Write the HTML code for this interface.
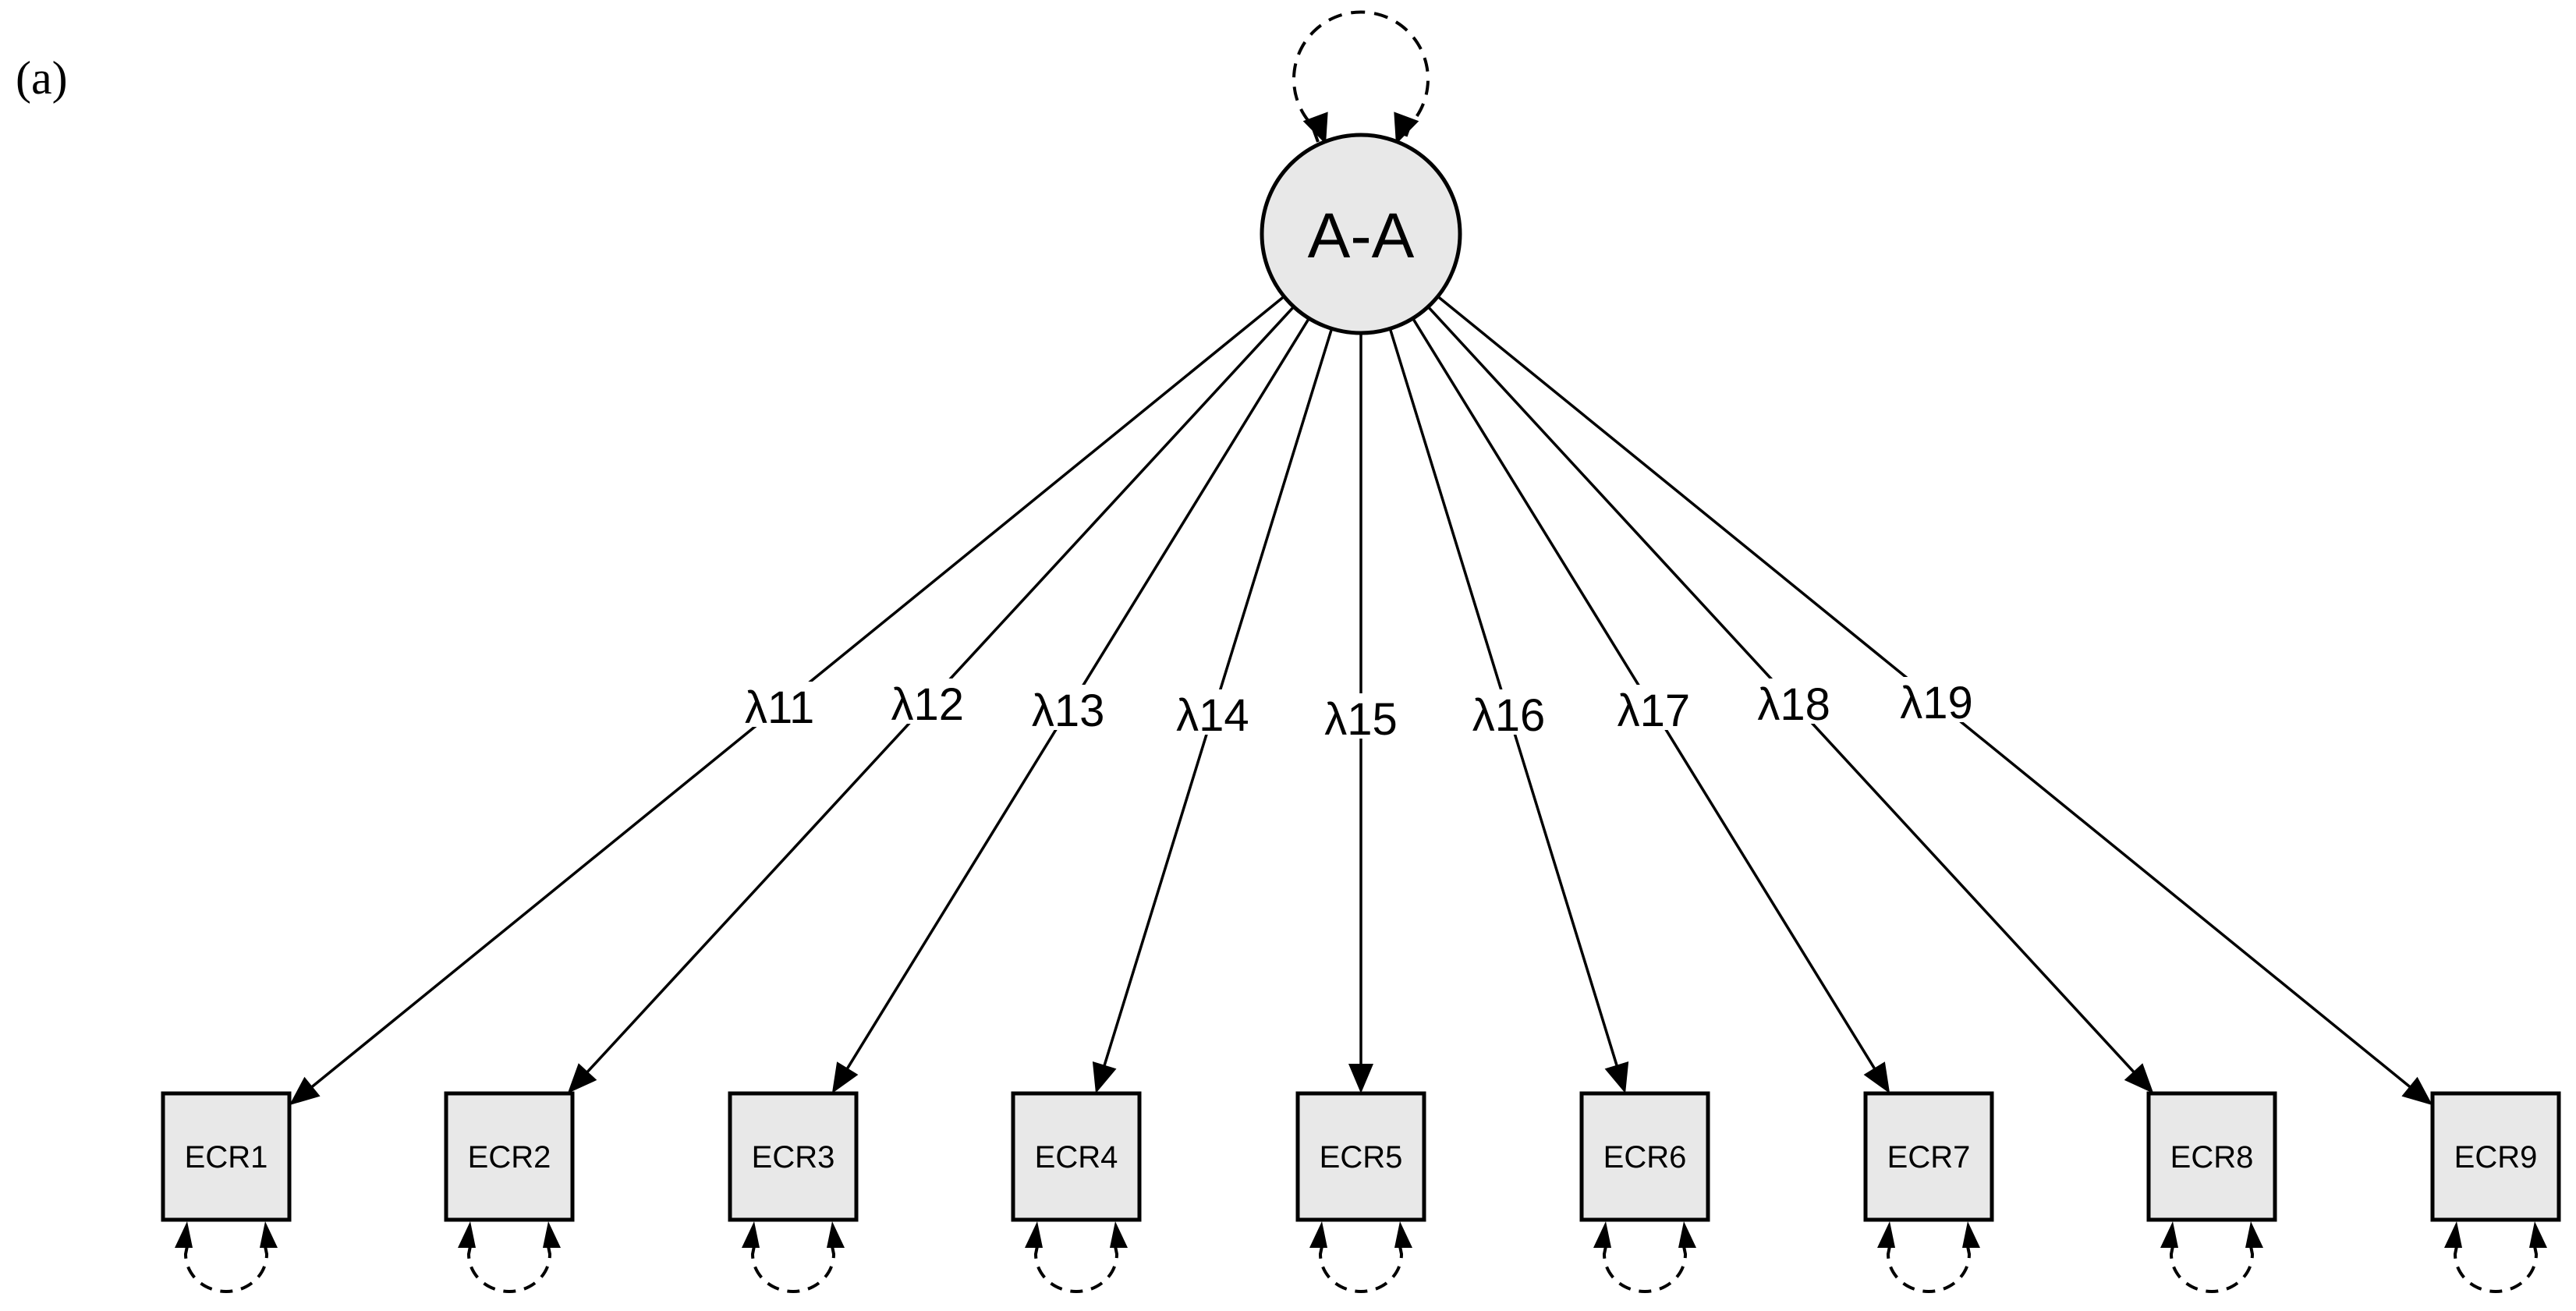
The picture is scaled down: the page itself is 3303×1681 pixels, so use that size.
<!DOCTYPE html>
<html><head><meta charset="utf-8"><style>
html,body{margin:0;padding:0;background:#fff;}
svg{display:block;}
</style></head><body>
<svg id="s" width="3303" height="1681" viewBox="0 0 3303 1681" xmlns="http://www.w3.org/2000/svg">
<text x="20" y="120" font-family="Liberation Serif, serif" font-size="60">(a)</text>
<g id="g"></g>
</svg>
<script>
(function(){
var NS="http://www.w3.org/2000/svg",g=document.getElementById('g');
function el(t,a,txt){var e=document.createElementNS(NS,t);for(var k in a)e.setAttribute(k,a[k]);if(txt)e.textContent=txt;g.appendChild(e);return e;}
var CX=1745,CY=300,R=127;
function arrow(tx,ty,ux,uy,L,W){var bx=tx-ux*L,by=ty-uy*L,px=-uy*W/2,py=ux*W/2;
 el('polygon',{points:tx+','+ty+' '+(bx+px)+','+(by+py)+' '+(bx-px)+','+(by-py),fill:'#000'});}
var xs=[290,653,1017,1380,1745,2109,2473,2836,3200];
var ly=[906,902,910,916,921,916,910,902,900];
var H=81,BY=1483;
// top self loop
el('path',{d:'M1690,182 L1682,160 A86,86 0 1 1 1808,160 L1800,182',fill:'none',stroke:'#000','stroke-width':4,'stroke-dasharray':'18,12'});
arrow(1700,185,0.35,0.94,38,34);arrow(1790,185,-0.35,0.94,38,34);
xs.forEach(function(x,i){
 var dx=x-CX,dy=BY-CY,len=Math.sqrt(dx*dx+dy*dy),ux=dx/len,uy=dy/len;
 var sx=CX+ux*R,sy=CY+uy*R;
 var t1=(BY-H-CY)/dy,t2=Math.abs(dx)>0?(Math.abs(dx)-H)/Math.abs(dx):1e9;
 var t=Math.max(t1,Math.min(t2,1e9));
 if(t2<1e9&&t2>t1)t=t2;else t=t1;
 var ex=CX+dx*t,ey=CY+dy*t;
 el('line',{x1:sx,y1:sy,x2:ex-ux*30,y2:ey-uy*30,stroke:'#000','stroke-width':3.5});
 arrow(ex,ey,ux,uy,38,32);
 // label
 var lx=CX+dx*((ly[i]-CY)/dy);
 var tw=(i==4)?78:86;
 el('rect',{x:lx-tw/2-4,y:ly[i]-32,width:tw+8,height:58,fill:'#fff'});
 el('text',{x:lx,y:ly[i]+21,'text-anchor':'middle','font-family':'Liberation Sans, DejaVu Sans, sans-serif','font-size':58},'λ1'+(i+1));
 // box
 el('rect',{x:x-H,y:BY-H,width:2*H,height:2*H,fill:'#e8e8e8',stroke:'#000','stroke-width':5});
 el('text',{x:x,y:BY+14,'text-anchor':'middle','font-family':'Liberation Sans, sans-serif','font-size':40},'ECR'+(i+1));
 // bottom loop
 el('path',{d:'M'+(x-50)+',1598 L'+(x-52)+',1608 A52,48 0 0 0 '+(x+52)+',1608 L'+(x+50)+',1598',fill:'none',stroke:'#000','stroke-width':4,'stroke-dasharray':'16,11'});
 el('polygon',{points:(x-50)+',1566 '+(x-66)+',1600 '+(x-43)+',1600',fill:'#000'});
 el('polygon',{points:(x+50)+',1566 '+(x+66)+',1600 '+(x+43)+',1600',fill:'#000'});
});
el('circle',{cx:CX,cy:CY,r:R,fill:'#e8e8e8',stroke:'#000','stroke-width':5});
el('text',{x:CX,y:CY+30,'text-anchor':'middle','font-family':'Liberation Sans, sans-serif','font-size':82},'A-A');
})();
</script>
</body></html>
